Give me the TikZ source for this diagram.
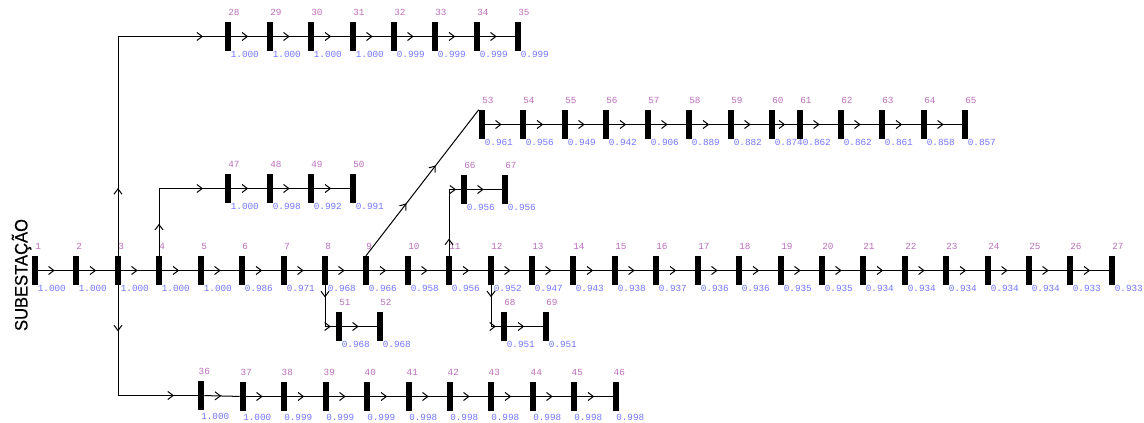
\documentclass[tikz,border=0pt]{standalone}
\usepackage{fontspec}
\setmainfont{Liberation Sans}
\setmonofont{Liberation Mono}
\newfontfamily\sidefont[FakeStretch=0.92,FakeBold=0.3]{Liberation Sans}
\usepackage{xcolor}
\usetikzlibrary{arrows.meta,decorations.markings}
\definecolor{numcolor}{RGB}{186,110,186}
\definecolor{voltcolor}{RGB}{116,116,255}
\tikzset{
  busbar/.style={fill=black,inner sep=0pt,minimum width=4.5pt,minimum height=21.75pt},
  numlabel/.style={anchor=west,inner sep=0pt,font=\ttfamily\fontsize{7}{8}\selectfont,text=numcolor},
  voltlabel/.style={anchor=west,inner sep=0pt,font=\ttfamily\fontsize{7}{8}\selectfont,text=voltcolor},
  sidelabel/.style={inner sep=0pt,font=\sidefont\fontsize{13.5}{15}\selectfont,rotate=90},
  feeder/.style={line width=0.75pt,postaction={decorate,decoration={markings,
    mark=at position 0.5 with {\arrow[xshift=-0.6pt]{Straight Barb[length=4pt,width=6pt]}}}}},
  branch/.style 2 args={line width=0.75pt,postaction={decorate,decoration={markings,
    mark=at position #1 with {\arrow[xshift=-0.6pt]{Straight Barb[length=4pt,width=6pt]}},
    mark=at position #2 with {\arrow[xshift=-0.6pt]{Straight Barb[length=4pt,width=6pt]}}}}}
}
% number, x, y, voltage
\newcommand{\busnode}[4]{%
  \node [busbar] (b#1) at (#2,#3) {};
  \node [numlabel] (n#1) at ([yshift=-6.9pt]b#1.north) {#1};
  \node [voltlabel] (v#1) at ([xshift=1.9pt,yshift=2.2pt]b#1.south) {#4};
}
% the bottom row has its texts further out
\newcommand{\lowbusnode}[4]{%
  \node [busbar] (b#1) at (#2,#3) {};
  \node [numlabel] (n#1) at ([xshift=-1.9pt,yshift=-6.9pt]b#1.north) {#1};
  \node [voltlabel] (v#1) at ([yshift=4.4pt]b#1.south) {#4};
}
\begin{document}
\begin{tikzpicture}[x=0.75pt,y=0.75pt,yscale=-1,xscale=1]
\useasboundingbox (0,0) rectangle (1144,423);
\node [sidelabel] (subestacao) at (21.5,275) {SUBESTAÇÃO};
%main feeder
\busnode{1}{35}{270.5}{1.000}
\busnode{2}{76}{270.5}{1.000}
\busnode{3}{118}{270.5}{1.000}
\busnode{4}{159}{270.5}{1.000}
\busnode{5}{201}{270.5}{1.000}
\busnode{6}{242}{270.5}{0.986}
\busnode{7}{284}{270.5}{0.971}
\busnode{8}{325}{270.5}{0.968}
\busnode{9}{366}{270.5}{0.966}
\busnode{10}{408}{270.5}{0.958}
\busnode{11}{449}{270.5}{0.956}
\busnode{12}{491}{270.5}{0.952}
\busnode{13}{532}{270.5}{0.947}
\busnode{14}{573}{270.5}{0.943}
\busnode{15}{615}{270.5}{0.938}
\busnode{16}{656}{270.5}{0.937}
\busnode{17}{698}{270.5}{0.936}
\busnode{18}{739}{270.5}{0.936}
\busnode{19}{781}{270.5}{0.935}
\busnode{20}{822}{270.5}{0.935}
\busnode{21}{863}{270.5}{0.934}
\busnode{22}{905}{270.5}{0.934}
\busnode{23}{946}{270.5}{0.934}
\busnode{24}{988}{270.5}{0.934}
\busnode{25}{1029}{270.5}{0.934}
\busnode{26}{1070}{270.5}{0.933}
\busnode{27}{1112}{270.5}{0.933}
%top row
\busnode{28}{228}{36.5}{1.000}
\busnode{29}{270}{36.5}{1.000}
\busnode{30}{311}{36.5}{1.000}
\busnode{31}{353}{36.5}{1.000}
\busnode{32}{394}{36.5}{0.999}
\busnode{33}{435}{36.5}{0.999}
\busnode{34}{477}{36.5}{0.999}
\busnode{35}{518}{36.5}{0.999}
%bottom row
\lowbusnode{36}{201}{395.5}{1.000}
\lowbusnode{37}{243}{396.5}{1.000}
\lowbusnode{38}{284}{396.5}{0.999}
\lowbusnode{39}{326}{396.5}{0.999}
\lowbusnode{40}{367}{396.5}{0.999}
\lowbusnode{41}{409}{396.5}{0.998}
\lowbusnode{42}{450}{396.5}{0.998}
\lowbusnode{43}{491}{396.5}{0.998}
\lowbusnode{44}{533}{396.5}{0.998}
\lowbusnode{45}{574}{396.5}{0.998}
\lowbusnode{46}{616}{396.5}{0.998}
%row of bus 4
\busnode{47}{228}{188.5}{1.000}
\busnode{48}{270}{188.5}{0.998}
\busnode{49}{311}{188.5}{0.992}
\busnode{50}{353}{188.5}{0.991}
%row of bus 8
\busnode{51}{339}{326.5}{0.968}
\busnode{52}{380}{326.5}{0.968}
%row of bus 9
\busnode{53}{482}{124.5}{0.961}
\busnode{54}{523}{124.5}{0.956}
\busnode{55}{565}{124.5}{0.949}
\busnode{56}{606}{124.5}{0.942}
\busnode{57}{648}{124.5}{0.906}
\busnode{58}{689}{124.5}{0.889}
\busnode{59}{731}{124.5}{0.882}
\busnode{60}{772}{124.5}{0.874}
\busnode{61}{800}{124.5}{0.862}
\busnode{62}{841}{124.5}{0.862}
\busnode{63}{882}{124.5}{0.861}
\busnode{64}{924}{124.5}{0.858}
\busnode{65}{965}{124.5}{0.857}
%row of bus 11
\busnode{66}{464}{189.5}{0.956}
\busnode{67}{505}{189.5}{0.956}
%row of bus 12
\busnode{68}{504}{326.5}{0.951}
\busnode{69}{546}{326.5}{0.951}
%connectors, main feeder
\draw [feeder] (b1) -- (b2);
\draw [feeder] (b2) -- (b3);
\draw [feeder] (b3) -- (b4);
\draw [feeder] (b4) -- (b5);
\draw [feeder] (b5) -- (b6);
\draw [feeder] (b6) -- (b7);
\draw [feeder] (b7) -- (b8);
\draw [feeder] (b8) -- (b9);
\draw [feeder] (b9) -- (b10);
\draw [feeder] (b10) -- (b11);
\draw [feeder] (b11) -- (b12);
\draw [feeder] (b12) -- (b13);
\draw [feeder] (b13) -- (b14);
\draw [feeder] (b14) -- (b15);
\draw [feeder] (b15) -- (b16);
\draw [feeder] (b16) -- (b17);
\draw [feeder] (b17) -- (b18);
\draw [feeder] (b18) -- (b19);
\draw [feeder] (b19) -- (b20);
\draw [feeder] (b20) -- (b21);
\draw [feeder] (b21) -- (b22);
\draw [feeder] (b22) -- (b23);
\draw [feeder] (b23) -- (b24);
\draw [feeder] (b24) -- (b25);
\draw [feeder] (b25) -- (b26);
\draw [feeder] (b26) -- (b27);
%connectors, branches off the main feeder
\draw [branch={0.21}{0.936}] (b3.north) |- (b28.west);
\draw [branch={0.247}{0.879}] (b3.south) |- (b36.west);
\draw [branch={0.246}{0.843}] (b4.north) |- (b47.west);
\draw [branch={0.25}{0.92}] (b8.south) |- (b51.west);
\draw [branch={0.363}{0.623}] (b9.north) -- (b53.north west);
\draw [branch={0.23}{0.95}] (b11.north) |- (b66.west);
\draw [branch={0.25}{0.92}] (b12.south) |- (b68.west);
%connectors, side rows
\draw [feeder] (b28) -- (b29);
\draw [feeder] (b29) -- (b30);
\draw [feeder] (b30) -- (b31);
\draw [feeder] (b31) -- (b32);
\draw [feeder] (b32) -- (b33);
\draw [feeder] (b33) -- (b34);
\draw [feeder] (b34) -- (b35);
\draw [feeder] (b36) -- (b37);
\draw [feeder] (b37) -- (b38);
\draw [feeder] (b38) -- (b39);
\draw [feeder] (b39) -- (b40);
\draw [feeder] (b40) -- (b41);
\draw [feeder] (b41) -- (b42);
\draw [feeder] (b42) -- (b43);
\draw [feeder] (b43) -- (b44);
\draw [feeder] (b44) -- (b45);
\draw [feeder] (b45) -- (b46);
\draw [feeder] (b47) -- (b48);
\draw [feeder] (b48) -- (b49);
\draw [feeder] (b49) -- (b50);
\draw [feeder] (b51) -- (b52);
\draw [feeder] (b53) -- (b54);
\draw [feeder] (b54) -- (b55);
\draw [feeder] (b55) -- (b56);
\draw [feeder] (b56) -- (b57);
\draw [feeder] (b57) -- (b58);
\draw [feeder] (b58) -- (b59);
\draw [feeder] (b59) -- (b60);
\draw [feeder] (b60) -- (b61);
\draw [feeder] (b61) -- (b62);
\draw [feeder] (b62) -- (b63);
\draw [feeder] (b63) -- (b64);
\draw [feeder] (b64) -- (b65);
\draw [feeder] (b66) -- (b67);
\draw [feeder] (b68) -- (b69);
\end{tikzpicture}
\end{document}
